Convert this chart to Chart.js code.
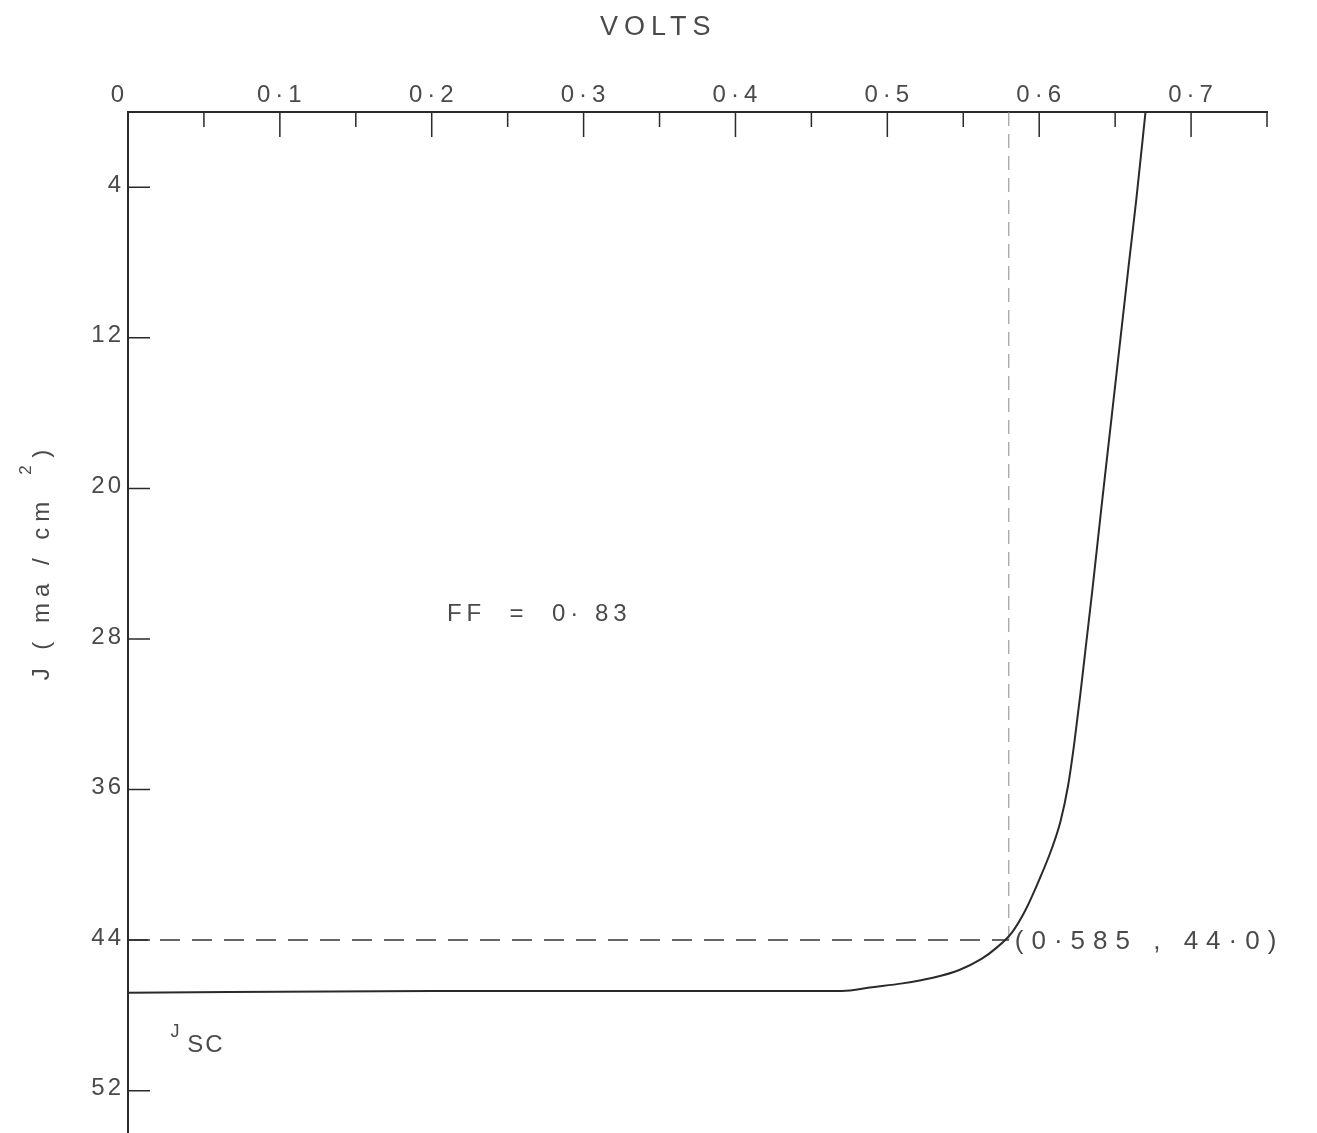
<!DOCTYPE html>
<html>
<head>
<meta charset="utf-8">
<script src="https://cdn.jsdelivr.net/npm/chart.js@4/dist/chart.umd.min.js"></script>
<style>
  html, body { margin: 0; padding: 0; background: #fff; }
  #ivChart { display: block; }
</style>
</head>
<body>
<canvas id="ivChart" width="1317" height="1133"></canvas>
<script>
/* Solar cell J-V curve, current plotted downward */

const INK = '#2a2a2a';
const TEXT = '#4a4a4a';
const FONT = '"Liberation Sans", "DejaVu Sans", sans-serif';

// curve (volts, mA/cm2)
const voltage = [0, 0.2, 0.47, 0.49, 0.51, 0.53, 0.547, 0.562, 0.572, 0.582, 0.591, 0.600, 0.608, 0.614, 0.619, 0.623, 0.627, 0.631, 0.635, 0.641, 0.647, 0.653, 0.659, 0.664, 0.670];
const current = [46.8, 46.7, 46.7, 46.5, 46.3, 46.0, 45.6, 45.0, 44.4, 43.6, 42.4, 40.8, 39.2, 37.7, 35.8, 33.6, 31.0, 28.2, 25.4, 21.0, 16.7, 12.4, 8.1, 4.6, 0];

// max power point marker
const mpVoltage = 0.58;
const mpCurrent = 44.0;

const xMajorTicks = [0, 0.1, 0.2, 0.3, 0.4, 0.5, 0.6, 0.7];
const xMinorTicks = [0.05, 0.15, 0.25, 0.35, 0.45, 0.55, 0.65, 0.75];
const yTicks = [4, 12, 20, 28, 36, 44, 52];

const fmt = v => v === 0 ? '0' : '0\u00b7' + Math.round(v * 10);

function spacedText(ctx, text, x, y, spacing) {
  ctx.letterSpacing = spacing + 'px';
  ctx.fillText(text, x, y);
  ctx.letterSpacing = '0px';
}

const inwardTicks = {
  id: 'inwardTicks',
  afterDraw(chart) {
    const { ctx, chartArea, scales: { x, y } } = chart;
    ctx.save();
    ctx.strokeStyle = INK;
    ctx.lineWidth = 1.5;
    ctx.beginPath();
    xMajorTicks.slice(1).forEach(v => {
      const px = x.getPixelForValue(v);
      ctx.moveTo(px, chartArea.top);
      ctx.lineTo(px, chartArea.top + 25);
    });
    xMinorTicks.forEach(v => {
      const px = x.getPixelForValue(v);
      ctx.moveTo(px, chartArea.top);
      ctx.lineTo(px, chartArea.top + 15);
    });
    yTicks.forEach(v => {
      const py = y.getPixelForValue(v);
      ctx.moveTo(chartArea.left, py);
      ctx.lineTo(chartArea.left + 22, py);
    });
    ctx.stroke();

    // tick labels, spaced out like the drafting lettering
    ctx.fillStyle = TEXT;
    ctx.textBaseline = 'middle';
    ctx.font = '24px ' + FONT;
    ctx.textAlign = 'center';
    xMajorTicks.forEach(v => {
      const px = v === 0 ? chartArea.left - 10 : x.getPixelForValue(v);
      spacedText(ctx, fmt(v), px + 2, chartArea.top - 17, 5);
    });
    ctx.textAlign = 'right';
    yTicks.forEach(v => {
      spacedText(ctx, String(v), chartArea.left - 4, y.getPixelForValue(v) - 2, 3);
    });

    // annotations
    ctx.textAlign = 'left';
    ctx.font = '27px ' + FONT;
    spacedText(ctx, 'VOLTS', 600, 28, 6);
    ctx.font = '24px ' + FONT;
    spacedText(ctx, 'FF  =  0\u00b7 83', x.getPixelForValue(0.21), y.getPixelForValue(26.7), 5);
    ctx.font = '26px ' + FONT;
    spacedText(ctx, '(0\u00b7585 , 44\u00b70)', x.getPixelForValue(mpVoltage) + 6, y.getPixelForValue(mpCurrent) + 2, 8);
    ctx.font = '18px ' + FONT;
    ctx.fillText('J', x.getPixelForValue(0.028), y.getPixelForValue(48.9));
    ctx.font = '24px ' + FONT;
    spacedText(ctx, 'SC', x.getPixelForValue(0.039), y.getPixelForValue(49.6), 2);

    // y title, rotated
    ctx.translate(42, 562);
    ctx.rotate(-Math.PI / 2);
    ctx.textAlign = 'center';
    ctx.font = '24px ' + FONT;
    spacedText(ctx, 'J ( ma / cm   )', 0, 0, 6);
    ctx.font = '17px ' + FONT;
    ctx.fillText('2', 92, -16);
    ctx.restore();
  },
};

new Chart(document.getElementById('ivChart'), {
  type: 'line',
  data: {
    datasets: [
      {
        label: 'J-V',
        data: voltage.map((v, i) => ({ x: v, y: current[i] })),
        borderColor: INK,
        borderWidth: 2,
        pointRadius: 0,
        cubicInterpolationMode: 'monotone',
      },
      {
        label: 'Jmp',
        data: [{ x: 0, y: mpCurrent }, { x: mpVoltage, y: mpCurrent }],
        borderColor: '#333',
        borderWidth: 1.5,
        borderDash: [20, 12],
        pointRadius: 0,
      },
      {
        label: 'Vmp',
        data: [{ x: mpVoltage, y: 0 }, { x: mpVoltage, y: mpCurrent }],
        borderColor: '#888',
        borderWidth: 1,
        borderDash: [14, 8],
        pointRadius: 0,
      },
    ],
  },
  options: {
    responsive: false,
    animation: false,
    layout: { padding: { left: 0, right: 50, top: 0, bottom: 0 } },
    plugins: { legend: { display: false }, tooltip: { enabled: false } },
    scales: {
      x: {
        type: 'linear',
        position: 'top',
        min: 0,
        max: 0.75,
        afterBuildTicks: s => { s.ticks = xMajorTicks.map(v => ({ value: v })); },
        afterFit: s => { s.height = 112; s.paddingLeft = 0; s.paddingRight = 0; },
        ticks: { display: false },
        grid: { drawOnChartArea: false, drawTicks: false },
        border: { display: true, color: INK, width: 2 },
      },
      y: {
        type: 'linear',
        reverse: true,
        min: 0,
        max: 54.25,
        afterBuildTicks: s => { s.ticks = yTicks.map(v => ({ value: v })); },
        afterFit: s => { s.width = 128; s.paddingTop = 0; s.paddingBottom = 0; },
        ticks: { display: false },
        grid: { drawOnChartArea: false, drawTicks: false },
        border: { display: true, color: INK, width: 2 },
      },
    },
  },
  plugins: [inwardTicks],
});
</script>
</body>
</html>
